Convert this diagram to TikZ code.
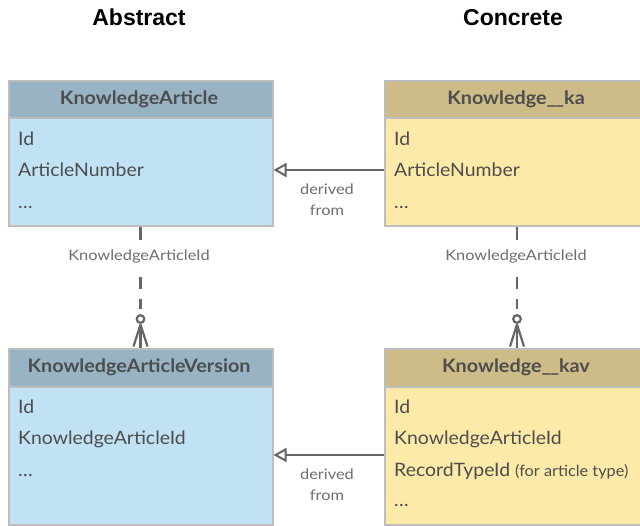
\documentclass[tikz,border=0pt]{standalone}
\usepackage{fontspec}
\setmainfont{Lato}
\newfontfamily\headfont{Liberation Sans}
\newfontfamily\rowfont[FakeStretch=1.05]{Lato}
\newfontfamily\hdrfont[FakeStretch=1.07]{Lato Bold}
\newfontfamily\lblfont[FakeStretch=1.13]{Lato}
\usetikzlibrary{arrows.meta,calc}
\definecolor{hdblue}{HTML}{98B4C4}
\definecolor{bdblue}{HTML}{C0E2F4}
\definecolor{hdyel}{HTML}{CDBC88}
\definecolor{bdyel}{HTML}{FDEAA8}
\definecolor{bordergray}{HTML}{BDBDBD}
\definecolor{linegray}{HTML}{666666}
\definecolor{txtdark}{HTML}{4D4D4D}
\definecolor{txtlabel}{HTML}{6E6E6E}
\tikzset{
  entity/.style={draw=bordergray, line width=2pt, minimum width=264pt, inner sep=0pt, anchor=north west},
  hdr/.style={draw=bordergray, line width=2pt, minimum width=264pt, minimum height=37pt, inner sep=0pt, anchor=north west},
  hdrtxt/.style={font=\hdrfont\fontsize{18.5}{21}\selectfont, text=txtdark, anchor=base, inner sep=0pt},
  row/.style={font=\rowfont\fontsize{18.5}{21}\selectfont, text=txtdark, anchor=base west, inner sep=0pt},
  lbl/.style={font=\lblfont\fontsize{14.5}{17}\selectfont, text=txtlabel, anchor=base, inner sep=0pt},
  coltitle/.style={font=\headfont\fontsize{23}{26}\selectfont\bfseries, text=black, anchor=base, inner sep=0pt},
  derived/.style={draw=linegray, line width=2.5pt, -{Triangle[open, length=13pt, width=14pt, line width=2pt]}},
  rel/.style={draw=linegray, line width=2.5pt},
}
\begin{document}
\begin{tikzpicture}[x=1pt, y=-1pt]
\path[use as bounding box, fill=white] (0,0) rectangle (640,525);

% column titles
\node[coltitle] (tabs) at (139,25) {Abstract};
\node[coltitle] (tcon) at (513,25) {Concrete};

% KnowledgeArticle
\node[entity, fill=bdblue, minimum height=145pt] (ka) at (7.5,79.5) {};
\node[hdr, fill=hdblue] (kah) at (7.5,79.5) {};
\node[hdrtxt] (kat) at (139,104) {KnowledgeArticle};
\node[row] (ka1) at (18,145.5) {Id};
\node[row] (ka2) at (18,176.5) {ArticleNumber};
\node[row] (ka3) at (18,208) {\dots};

% Knowledge__ka
\node[entity, fill=bdyel, minimum height=145pt] (kc) at (384,79.5) {};
\node[hdr, fill=hdyel] (kch) at (384,79.5) {};
\node[hdrtxt] (kct) at (516,104) {Knowledge\_\kern-1pt\_ka};
\node[row] (kc1) at (394,145.5) {Id};
\node[row] (kc2) at (394,176.5) {ArticleNumber};
\node[row] (kc3) at (394,208) {\dots};

% KnowledgeArticleVersion
\node[entity, fill=bdblue, minimum height=176pt] (kav) at (7.5,347.5) {};
\node[hdr, fill=hdblue, minimum height=38pt] (kavh) at (7.5,347.5) {};
\node[hdrtxt] (kavt) at (139,372.5) {KnowledgeArticleVersion};
\node[row] (kav1) at (18,413.5) {Id};
\node[row] (kav2) at (18,444.5) {KnowledgeArticleId};
\node[row] (kav3) at (18,476.5) {\dots};

% Knowledge__kav
\node[entity, fill=bdyel, minimum height=176pt] (kcv) at (384,347.5) {};
\node[hdr, fill=hdyel, minimum height=38pt] (kcvh) at (384,347.5) {};
\node[hdrtxt] (kcvt) at (516,372.5) {Knowledge\_\kern-1pt\_kav};
\node[row] (kcv1) at (394,413.5) {Id};
\node[row] (kcv2) at (394,444.5) {KnowledgeArticleId};
\node[row] (kcv3) at (394,476.5) {RecordTypeId {\fontsize{15.5}{18}\selectfont (for article type)}};
\node[row] (kcv4) at (394,506) {\dots};

% derived-from arrows
\draw[derived] (kc.west |- 0,170) -- (ka.east |- 0,170);
\node[lbl] (d1a) at (327,194.5) {derived};
\node[lbl] (d1b) at (327,215.5) {from};
\draw[derived] (kcv.west |- 0,455) -- (kav.east |- 0,455);
\node[lbl] (d2a) at (327,479.5) {derived};
\node[lbl] (d2b) at (327,500.5) {from};

% relationships (one to many, optional)
\foreach \src/\dst in {ka/kav, kc/kcv}{
  \draw[rel] (\src.south) -- ++(0,13);
  \draw[rel] ($(\src.south)+(0,50)$) -- ++(0,12);
  \draw[rel] ($(\src.south)+(0,72)$) -- ++(0,10);
  \draw[rel, line width=2.2pt] ($(\src.south)+(0,92.5)$) circle[radius=3.8];
  \draw[rel, line width=2.2pt] ($(\dst.north)+(0,-23)$) -- (\dst.north);
  \draw[rel, line width=2.2pt] ($(\dst.north)+(0,-23)$) -- ($(\dst.north)+(-7,-1)$);
  \draw[rel, line width=2.2pt] ($(\dst.north)+(0,-23)$) -- ($(\dst.north)+(7,-1)$);
}
\node[lbl] (r1) at (139,260) {KnowledgeArticleId};
\node[lbl] (r2) at (516,260) {KnowledgeArticleId};
\end{tikzpicture}
\end{document}
